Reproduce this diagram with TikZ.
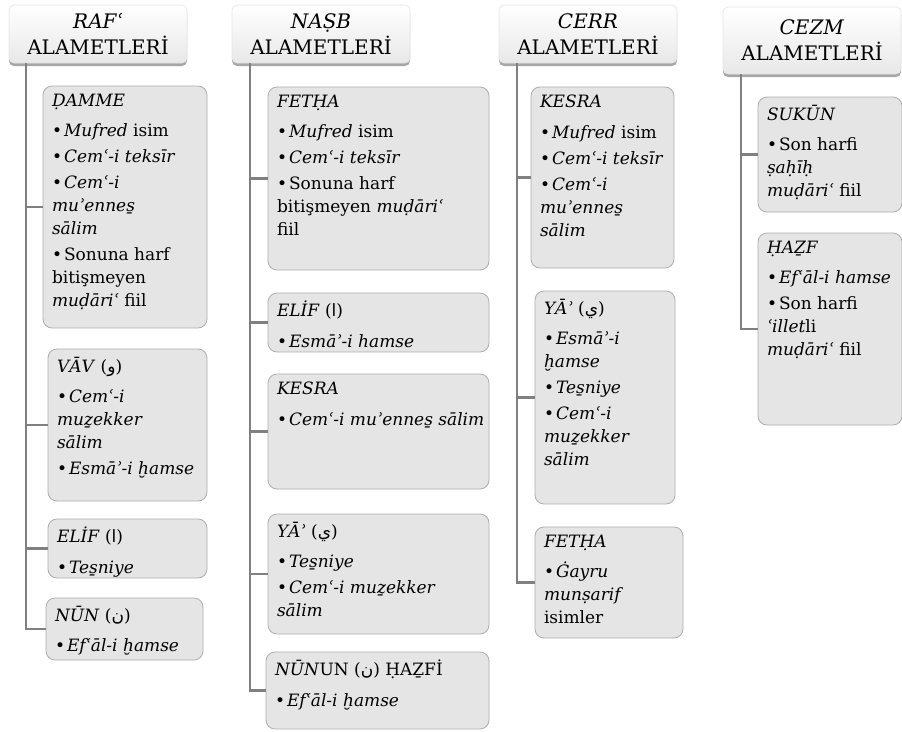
\documentclass[tikz,border=0pt]{standalone}
\usepackage{fontspec}
\setmainfont{DejaVu Serif}
\newfontfamily\arabicfont[Script=Arabic]{DejaVu Sans}
\usetikzlibrary{shadows}
\newcommand\arb[1]{{\arabicfont #1}}
\newcommand\bhead[1]{\noindent #1\par\vspace{7.5pt}}
\newcommand\bitem[1]{\noindent\hangindent=12pt\hangafter=1\makebox[12pt][l]{•}#1\par\vspace{3pt}}
\newcommand\ibox[3]{\begin{minipage}[t][#2][t]{#1}\raggedright\fontsize{17}{23}\selectfont #3\end{minipage}}
\tikzset{
  itembox/.style={draw=black!32, fill=black!10, rounded corners=9pt, line width=0.8pt,
    inner xsep=9pt, inner ysep=8pt, outer sep=0pt, anchor=north west},
  headbox/.style={draw=black!10, top color=white, bottom color=black!9, rounded corners=5pt,
    line width=0.6pt, minimum width=178pt, outer sep=0pt, anchor=north west, align=center,
    font=\fontsize{20}{26}\selectfont,
    drop shadow={shadow xshift=0pt, shadow yshift=-3pt, fill=black, opacity=0.35}},
  conn/.style={draw=black!50, line width=2.6pt}
}
\begin{document}
\begin{tikzpicture}[x=1pt,y=-1pt]
\useasboundingbox (0,0) rectangle (902,731);
% headers
\node[headbox, minimum height=58pt] (h1) at (9,5) {\textit{RAFʿ}\\ALAMETLERİ};
\node[headbox, minimum height=58pt] (h2) at (232,5) {\textit{NAṢB}\\ALAMETLERİ};
\node[headbox, minimum height=58pt] (h3) at (499,5) {\textit{CERR}\\ALAMETLERİ};
\node[headbox, minimum height=67pt] (h4) at (723,7) {\textit{CEZM}\\ALAMETLERİ};
\path (h1.south west) ++(17pt,0) coordinate (s1);
\path (h2.south west) ++(18pt,0) coordinate (s2);
\path (h3.south west) ++(18pt,0) coordinate (s3);
\path (h4.south west) ++(18pt,0) coordinate (s4);
% column 1
\node[itembox] (d1) at (43,86) {\ibox{146pt}{226pt}{%
\bhead{\textit{ḌAMME}}
\bitem{\textit{Mufred} isim}
\bitem{\textit{Cemʿ-i teksīr}}
\bitem{\textit{Cemʿ-i\\ muʾennes̱\\ sālim}}
\bitem{Sonuna harf\\ bitişmeyen\\ \textit{muḍāriʿ} fiil}}};
\node[itembox] (v1) at (48,349) {\ibox{141pt}{136pt}{%
\bhead{\textit{VĀV} (\arb{و})}
\bitem{\textit{Cemʿ-i\\ muẕekker\\ sālim}}
\bitem{\textit{Esmāʾ-i ḫamse}}}};
\node[itembox] (e1) at (48,519) {\ibox{141pt}{43pt}{%
\bhead{\textit{ELİF} (\arb{ا})}
\bitem{\textit{Tes̱niye}}}};
\node[itembox] (n1) at (46,598) {\ibox{139pt}{46pt}{%
\bhead{\textit{NŪN} (\arb{ن})}
\bitem{\textit{Efʿāl-i ḫamse}}}};
% column 2
\node[itembox] (f2) at (268,87) {\ibox{203pt}{167pt}{%
\bhead{\textit{FETḤA}}
\bitem{\textit{Mufred} isim}
\bitem{\textit{Cemʿ-i teksīr}}
\bitem{Sonuna harf\\ bitişmeyen \textit{muḍāriʿ}\\ fiil}}};
\node[itembox] (e2) at (268,293) {\ibox{203pt}{43pt}{%
\bhead{\textit{ELİF} (\arb{ا})}
\bitem{\textit{Esmāʾ-i hamse}}}};
\node[itembox] (k2) at (268,374) {\ibox{203pt}{99pt}{%
\bhead{\textit{KESRA}}
\bitem{\mbox{\textit{Cemʿ-i muʾennes̱ sālim}}}}};
\node[itembox] (y2) at (268,514) {\ibox{203pt}{104pt}{%
\bhead{\textit{YĀʾ} (\arb{ي})}
\bitem{\textit{Tes̱niye}}
\bitem{\textit{Cemʿ-i muẕekker\\ sālim}}}};
\node[itembox] (n2) at (266,652) {\ibox{205pt}{61pt}{%
\bhead{\textit{NŪN}UN (\arb{ن}) ḤAẔFİ}
\bitem{\textit{Efʿāl-i ḫamse}}}};
% column 3
\node[itembox] (k3) at (531,87) {\ibox{125pt}{165pt}{%
\bhead{\textit{KESRA}}
\bitem{\textit{Mufred} isim}
\bitem{\textit{Cemʿ-i teksīr}}
\bitem{\textit{Cemʿ-i\\ muʾennes̱\\ sālim}}}};
\node[itembox] (y3) at (535,291) {\ibox{122pt}{197pt}{%
\bhead{\textit{YĀʾ} (\arb{ي})}
\bitem{\textit{Esmāʾ-i\\ ḫamse}}
\bitem{\textit{Tes̱niye}}
\bitem{\textit{Cemʿ-i\\ muẕekker\\ sālim}}}};
\node[itembox] (f3) at (535,527) {\ibox{130pt}{95pt}{%
\bhead{\textit{FETḤA}}
\bitem{\textit{Ġayru\\ munṣarif}\\ isimler}}};
% column 4
\node[itembox] (k4) at (758,97) {\ibox{126pt}{99pt}{%
\bhead{\textit{SUKŪN}}
\bitem{Son harfi\\ \textit{ṣaḥīḥ}\\ \textit{muḍāriʿ} fiil}}};
\node[itembox] (z4) at (758,233) {\ibox{126pt}{176pt}{%
\bhead{\textit{ḤAẔF}}
\bitem{\textit{Efʿāl-i hamse}}
\bitem{Son harfi\\ \textit{ʿillet}li\\ \textit{muḍāriʿ} fiil}}};
% connectors
\draw[conn] (s1) |- (d1.west);
\draw[conn] (s1) |- (v1.west);
\draw[conn] (s1) |- (e1.west);
\draw[conn] (s1) |- (n1.west);
\draw[conn] (s2) |- (f2.west);
\draw[conn] (s2) |- (e2.west);
\draw[conn] (s2) |- (k2.west);
\draw[conn] (s2) |- (y2.west);
\draw[conn] (s2) |- (n2.west);
\draw[conn] (s3) |- (k3.west);
\draw[conn] (s3) |- (y3.west);
\draw[conn] (s3) |- (f3.west);
\draw[conn] (s4) |- (k4.west);
\draw[conn] (s4) |- (z4.west);
\end{tikzpicture}
\end{document}
